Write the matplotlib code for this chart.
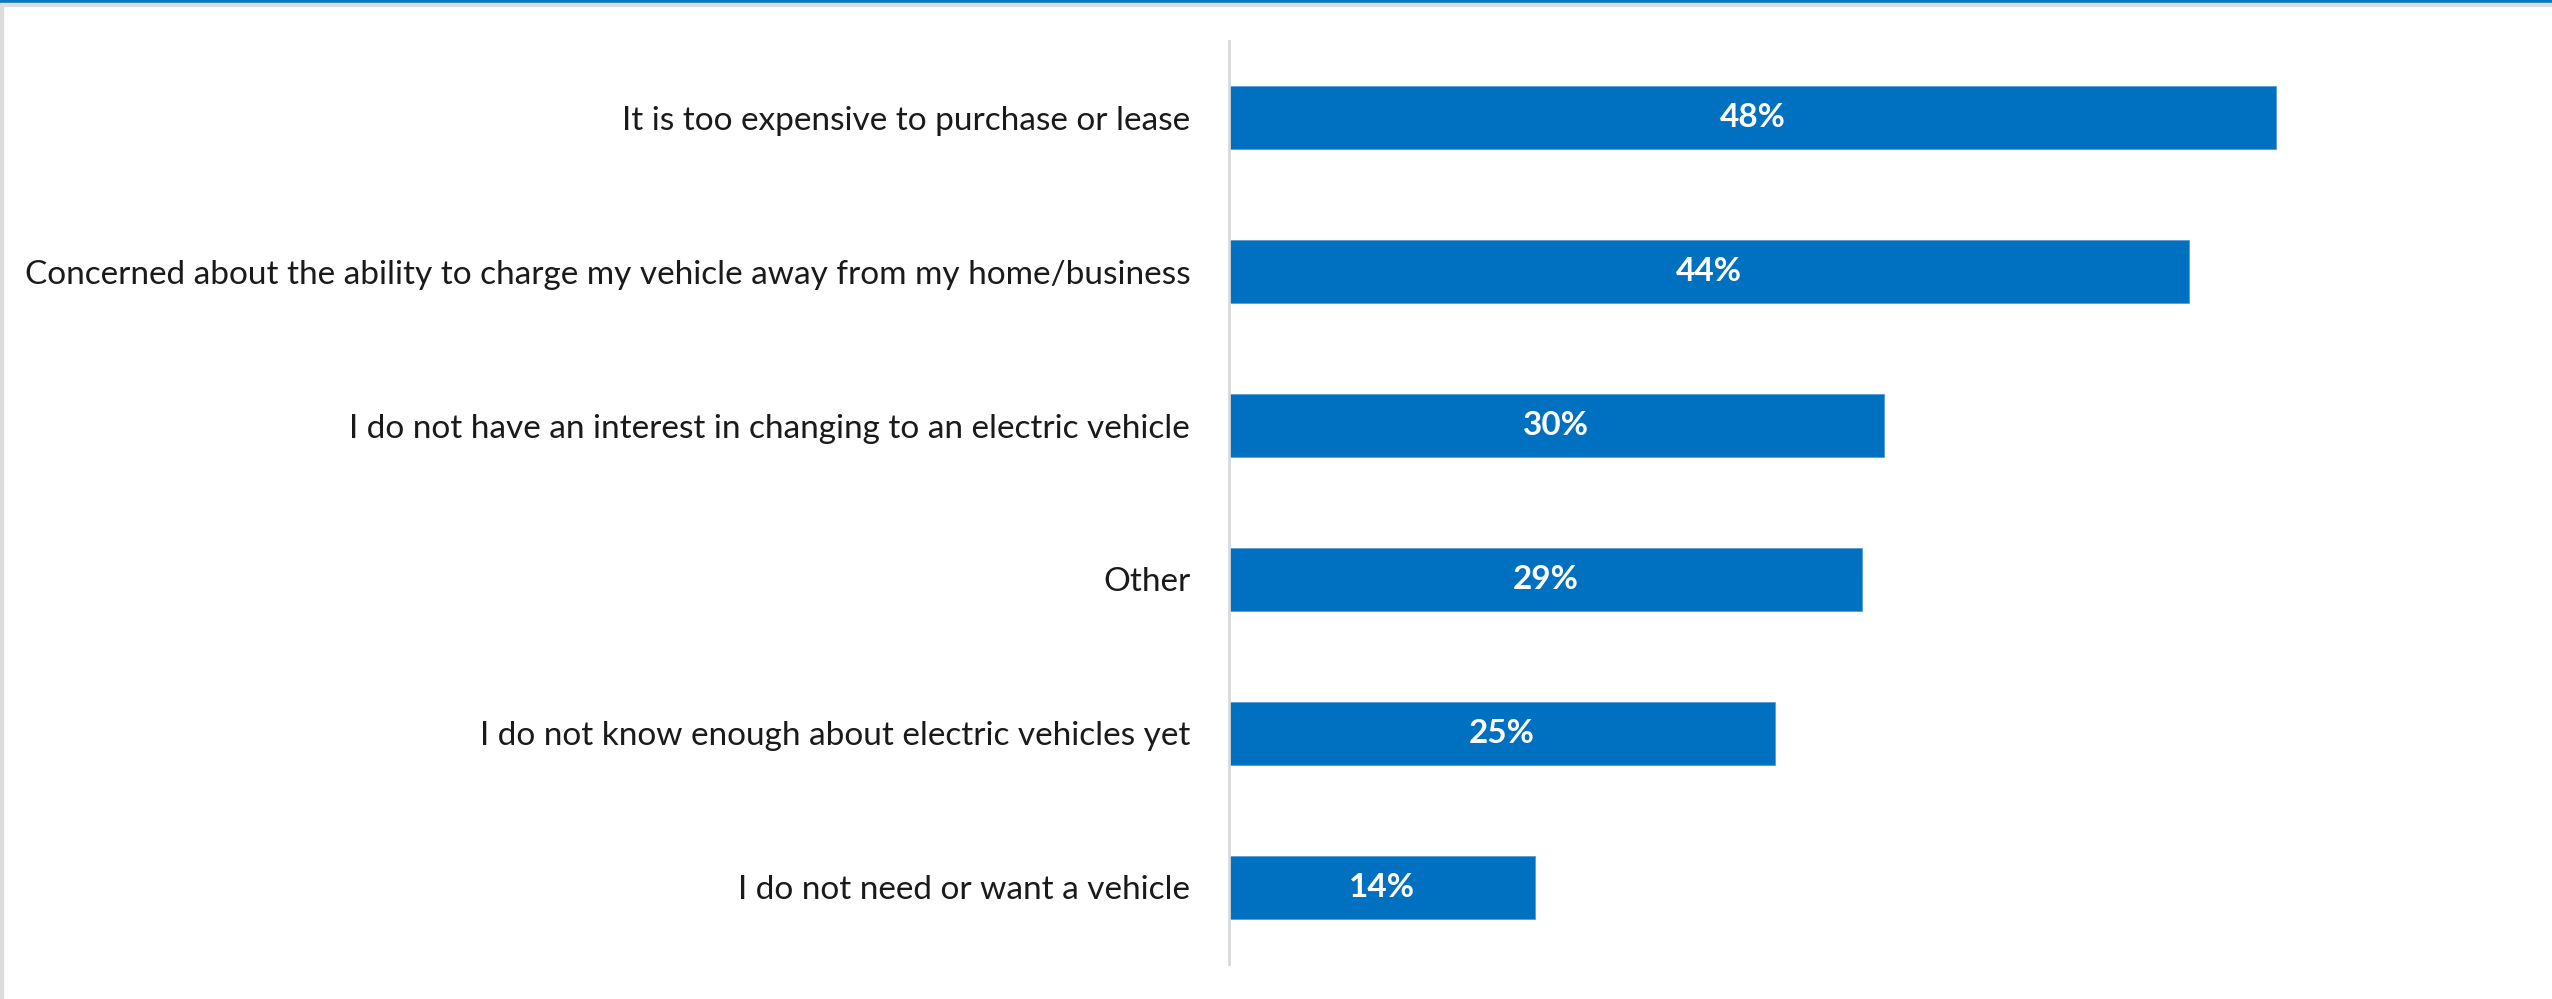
import matplotlib.pyplot as plt
from matplotlib.patches import Rectangle

categories = [
    "It is too expensive to purchase or lease",
    "Concerned about the ability to charge my vehicle away from my home/business",
    "I do not have an interest in changing to an electric vehicle",
    "Other",
    "I do not know enough about electric vehicles yet",
    "I do not need or want a vehicle",
]
values = [48, 44, 30, 29, 25, 14]
value_labels = ["48%", "44%", "30%", "29%", "25%", "14%"]

bar_color = "#0070C0"

plt.rcParams['font.family'] = ['Lato', 'DejaVu Sans']

fig = plt.figure(figsize=(25.52, 9.99), dpi=100)
ax = fig.add_axes([0.4816, 0.035, 0.513, 0.924])

y = list(range(len(categories)))
bars = ax.barh(y, values, height=0.41, color=bar_color, edgecolor="#5B9BD5", lw=0.6)
ax.set_ylim(len(categories) - 0.5, -0.5)
ax.set_xlim(0, 60)

for b, lbl in zip(bars, value_labels):
    ax.text(b.get_width() / 2, b.get_y() + b.get_height() / 2, lbl,
            ha='center', va='center', color='white', fontsize=24, fontweight='bold')

ax.set_yticks(y)
ax.set_yticklabels(categories, fontsize=24, color='#1a1a1a')
ax.tick_params(axis='y', length=0, pad=28)
ax.set_xticks([])
for s in ['top', 'right', 'bottom']:
    ax.spines[s].set_visible(False)
ax.spines['left'].set_color('#D9D9D9')
ax.spines['left'].set_linewidth(2)

# window frame: blue strip on top, grey edges
fig.patches.append(Rectangle((0, 1 - 3 / 999), 1, 3 / 999, transform=fig.transFigure,
                             color='#0A78BE', zorder=10))
fig.patches.append(Rectangle((0, 1 - 6 / 999), 1, 3 / 999, transform=fig.transFigure,
                             color='#DCDCDC', zorder=10))
fig.patches.append(Rectangle((0, 0), 3 / 2552, 1 - 6 / 999, transform=fig.transFigure,
                             color='#DCDCDC', zorder=10))

fig.savefig("out.png", dpi=100, facecolor='white')
